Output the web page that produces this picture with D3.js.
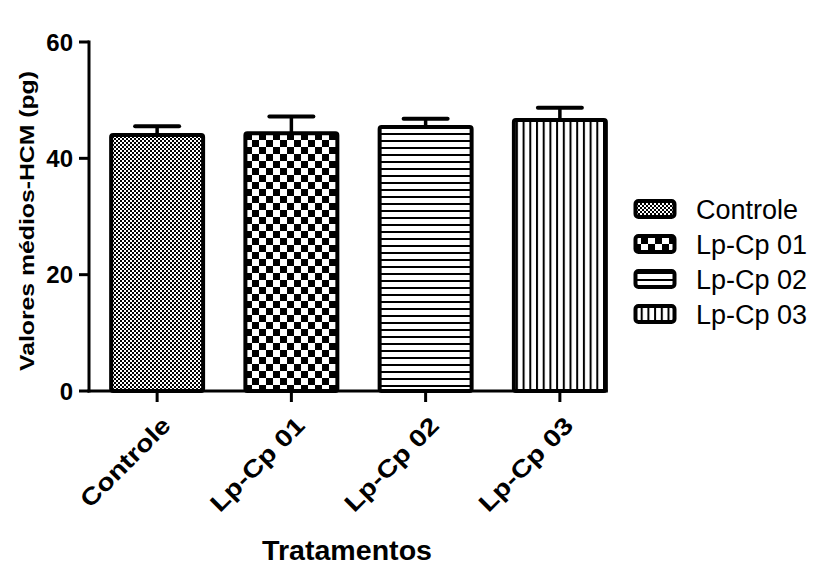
<!DOCTYPE html>
<html>
<head>
<meta charset="utf-8">
<script src="https://cdn.jsdelivr.net/npm/d3@7"></script>
<style>
  html, body { margin: 0; padding: 0; background: #fff; }
  svg { display: block; font-family: "Liberation Sans", Arial, sans-serif; }
</style>
</head>
<body>
<svg id="chart" width="816" height="582"></svg>
<script>
// Mean HCM values (pg) per treatment, with upper error (SEM)
const categories = ["Controle", "Lp-Cp 01", "Lp-Cp 02", "Lp-Cp 03"];
const means = [44.0, 44.3, 45.4, 46.6];
const errors = [1.5, 2.9, 1.4, 2.1];
const patternIds = ["pat-fine", "pat-checker", "pat-hlines", "pat-vlines"];
const yTicks = [0, 20, 40, 60];
const yTitle = "Valores médios-HCM (pg)";
const xTitle = "Tratamentos";

const svg = d3.select("#chart");
const defs = svg.append("defs");

// Fill patterns
const fine = defs.append("pattern").attr("id", "pat-fine")
  .attr("patternUnits", "userSpaceOnUse").attr("width", 4).attr("height", 4);
fine.append("rect").attr("width", 4).attr("height", 4).attr("fill", "#fff");
fine.append("rect").attr("x", 0).attr("y", 0).attr("width", 2).attr("height", 2).attr("fill", "#000");
fine.append("rect").attr("x", 2).attr("y", 2).attr("width", 2).attr("height", 2).attr("fill", "#000");

const chk = defs.append("pattern").attr("id", "pat-checker")
  .attr("patternUnits", "userSpaceOnUse").attr("width", 14).attr("height", 14);
chk.append("rect").attr("width", 14).attr("height", 14).attr("fill", "#fff");
chk.append("rect").attr("x", 0).attr("y", 0).attr("width", 7).attr("height", 7).attr("fill", "#000");
chk.append("rect").attr("x", 7).attr("y", 7).attr("width", 7).attr("height", 7).attr("fill", "#000");

const hl = defs.append("pattern").attr("id", "pat-hlines")
  .attr("patternUnits", "userSpaceOnUse").attr("width", 10).attr("height", 7);
hl.append("rect").attr("width", 10).attr("height", 7).attr("fill", "#fff");
hl.append("rect").attr("x", 0).attr("y", 0).attr("width", 10).attr("height", 2).attr("fill", "#000");

const vl = defs.append("pattern").attr("id", "pat-vlines")
  .attr("patternUnits", "userSpaceOnUse").attr("width", 6.7).attr("height", 10);
vl.append("rect").attr("width", 6.7).attr("height", 10).attr("fill", "#fff");
vl.append("rect").attr("x", 0).attr("y", 0).attr("width", 2).attr("height", 10).attr("fill", "#000");

// Scales
const x = d3.scaleBand().domain(categories).range([90, 627])
  .paddingInner(0.315).paddingOuter(0.1575);
const y = d3.scaleLinear().domain([0, 60]).range([391, 42]);
const axisX = 89;

// Bars
svg.append("g").selectAll("rect").data(categories).join("rect")
  .attr("x", d => x(d))
  .attr("y", (d, i) => y(means[i]))
  .attr("width", x.bandwidth())
  .attr("height", (d, i) => y(0) - y(means[i]))
  .attr("rx", 2)
  .attr("fill", (d, i) => `url(#${patternIds[i]})`)
  .attr("stroke", "#000").attr("stroke-width", 4);

// Error bars (upper only)
const eb = svg.append("g").attr("stroke", "#000").attr("stroke-linecap", "round");
categories.forEach((c, i) => {
  const cx = x(c) + x.bandwidth() / 2;
  eb.append("line").attr("x1", cx).attr("x2", cx)
    .attr("y1", y(means[i])).attr("y2", y(means[i] + errors[i]))
    .attr("stroke-width", 3.5).attr("stroke-linecap", "butt");
  eb.append("line").attr("x1", cx - 22).attr("x2", cx + 22)
    .attr("y1", y(means[i] + errors[i])).attr("y2", y(means[i] + errors[i]))
    .attr("stroke-width", 4);
});

// Y axis
const gy = svg.append("g").attr("transform", `translate(${axisX},0)`);
gy.append("line").attr("x1", 0).attr("x2", 0).attr("y1", y(0) + 1.5).attr("y2", y(60) - 1.5)
  .attr("stroke", "#000").attr("stroke-width", 3);
gy.selectAll(".tk").data(yTicks).join("line").attr("class", "tk")
  .attr("x1", -10).attr("x2", 0).attr("y1", d => y(d)).attr("y2", d => y(d))
  .attr("stroke", "#000").attr("stroke-width", 3);
gy.selectAll(".tl").data(yTicks).join("text").attr("class", "tl")
  .attr("x", -16).attr("y", d => y(d)).attr("dy", "0.36em")
  .attr("text-anchor", "end").attr("font-weight", "bold").attr("font-size", 24)
  .text(d => d);

// X axis
const gx = svg.append("g");
gx.append("line").attr("x1", axisX - 1.5).attr("x2", x(categories[3]) + x.bandwidth() + 2)
  .attr("y1", y(0)).attr("y2", y(0)).attr("stroke", "#000").attr("stroke-width", 3);
gx.selectAll(".tk").data(categories).join("line").attr("class", "tk")
  .attr("x1", d => x(d) + x.bandwidth() / 2).attr("x2", d => x(d) + x.bandwidth() / 2)
  .attr("y1", y(0)).attr("y2", y(0) + 11)
  .attr("stroke", "#000").attr("stroke-width", 3);
gx.selectAll(".tl").data(categories).join("text").attr("class", "tl")
  .attr("transform", d => `translate(${x(d) + x.bandwidth() / 2 + 9},${y(0) + 30}) rotate(-45)`)
  .attr("text-anchor", "end").attr("dy", "0.35em")
  .attr("font-weight", "bold").attr("font-size", 24)
  .attr("textLength", d => d === "Controle" ? 116 : 122)
  .attr("lengthAdjust", "spacingAndGlyphs")
  .text(d => d);

// Axis titles
svg.append("text")
  .attr("transform", `translate(34,221) rotate(-90)`)
  .attr("text-anchor", "middle").attr("font-weight", "bold").attr("font-size", 20)
  .attr("textLength", 300).attr("lengthAdjust", "spacingAndGlyphs")
  .text(yTitle);
svg.append("text").attr("x", 347).attr("y", 560)
  .attr("text-anchor", "middle").attr("font-weight", "bold").attr("font-size", 27)
  .attr("textLength", 170).attr("lengthAdjust", "spacingAndGlyphs")
  .text(xTitle);

// Legend
const lg = svg.append("g").selectAll("g").data(categories).join("g")
  .attr("transform", (d, i) => `translate(634,${209 + i * 35})`);
lg.append("rect").attr("x", 1.5).attr("y", -8).attr("width", 39).attr("height", 16).attr("rx", 3)
  .attr("fill", (d, i) => `url(#${patternIds[i]})`)
  .attr("stroke", "#000").attr("stroke-width", 4);
lg.append("text").attr("x", 62).attr("y", 0).attr("dy", "0.36em")
  .attr("font-size", 27).text(d => d);
</script>
</body>
</html>
